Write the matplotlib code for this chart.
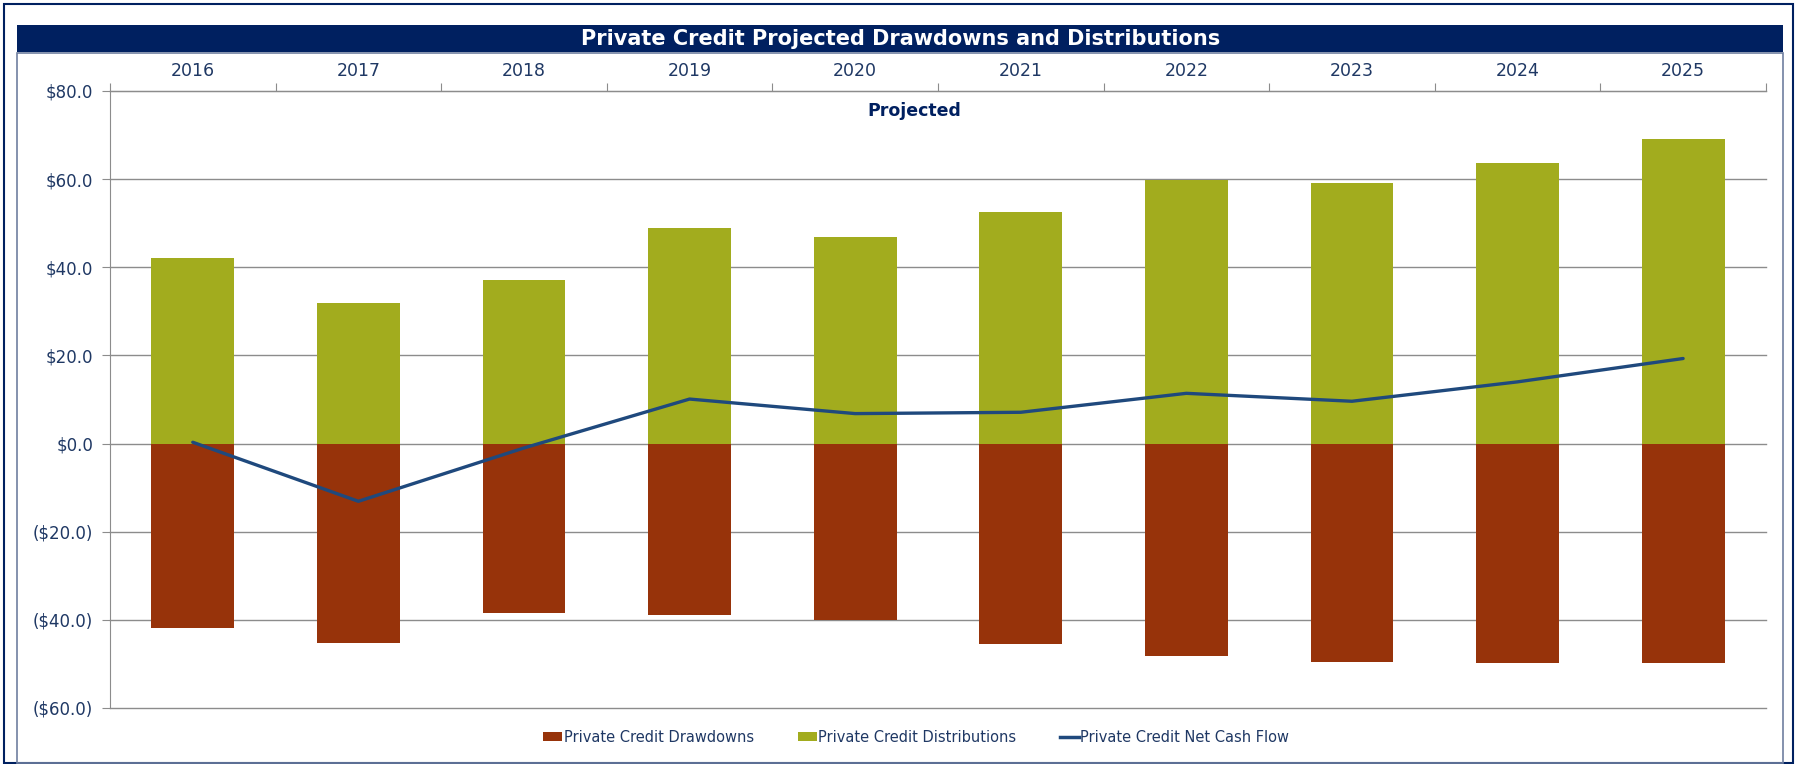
import matplotlib
matplotlib.use("Agg")
import numpy as np
import matplotlib.pyplot as plt
from matplotlib.patches import Rectangle, Patch
from matplotlib.lines import Line2D

# dados
anos = ["2016", "2017", "2018", "2019", "2020", "2021", "2022", "2023", "2024", "2025"]
distribuicoes = [42.0, 32.0, 37.1, 49.0, 46.8, 52.5, 59.8, 59.2, 63.6, 69.1]
saques = [-41.8, -45.2, -38.4, -39.0, -40.0, -45.5, -48.3, -49.6, -49.9, -49.9]
fluxo_liquido = [0.3, -13.1, -1.0, 10.1, 6.8, 7.1, 11.4, 9.6, 14.0, 19.3]
y_ticks = [80, 60, 40, 20, 0, -20, -40, -60]

cor_saque = "#97330A"
cor_dist = "#A2AC1E"
cor_linha = "#1F497D"
cor_titulo = "#002060"
cor_texto = "#1F3864"
cor_grade = "#8C8C8C"

plt.rcParams["font.family"] = ["DejaVu Sans"]


def formatar_dolar(v):
    if v < 0:
        return f"(${abs(v):.1f})"
    return f"${v:.1f}"


fig = plt.figure(figsize=(17.97, 7.64), dpi=100)

# moldura externa e caixa interna
fig.add_artist(Rectangle((0.0025, 0.001), 0.995, 0.994, transform=fig.transFigure,
                         fill=False, edgecolor=cor_titulo, lw=1.5))
fig.add_artist(Rectangle((0.0095, 0.001), 0.9828, 0.93, transform=fig.transFigure,
                         fill=False, edgecolor="#6F7FA0", lw=1.2))
# barra do titulo
fig.add_artist(Rectangle((0.0095, 0.9319), 0.9828, 0.0353, transform=fig.transFigure,
                         facecolor=cor_titulo, edgecolor=cor_titulo, lw=0))
fig.text(0.501, 0.9496, "Private Credit Projected Drawdowns and Distributions",
         color="white", fontsize=15, fontweight="bold", ha="center", va="center")

ax = fig.add_axes([0.0612, 0.0733, 0.9215, 0.8076])
x = np.arange(len(anos))

ax.bar(x, saques, width=0.5, color=cor_saque, zorder=2, label="Private Credit Drawdowns")
ax.bar(x, distribuicoes, width=0.5, color=cor_dist, zorder=2, label="Private Credit Distributions")
ax.plot(x, fluxo_liquido, color=cor_linha, lw=2.4, zorder=3, label="Private Credit Net Cash Flow",
        solid_capstyle="round")

ax.set_xlim(-0.5, len(anos) - 0.5)
ax.set_ylim(-60, 80)
ax.set_yticks(y_ticks)
ax.set_yticklabels([formatar_dolar(v) for v in y_ticks], color=cor_texto, fontsize=12)
ax.yaxis.grid(True, color=cor_grade, lw=1, zorder=0)
ax.set_axisbelow(True)
for g in ax.get_ygridlines():
    g.set_clip_on(False)

ax.xaxis.tick_top()
ax.set_xticks(np.arange(-0.5, len(anos)), labels=[""] * (len(anos) + 1))
ax.set_xticks(x, labels=anos, minor=True)
ax.tick_params(axis="x", which="major", length=6, color=cor_grade, direction="out")
ax.tick_params(axis="x", which="minor", length=0, pad=8, labelsize=12.5, labelcolor=cor_texto)
ax.tick_params(axis="y", length=6, color=cor_grade, pad=6)

for lado in ["right", "bottom"]:
    ax.spines[lado].set_visible(False)
ax.spines["left"].set_color(cor_grade)
ax.spines["top"].set_color(cor_grade)

ax.text(0.486, 0.967, "Projected", transform=ax.transAxes, ha="center", va="center",
        fontsize=12.5, fontweight="bold", color=cor_titulo)

itens = [Patch(facecolor=cor_saque, label="Private Credit Drawdowns"),
         Patch(facecolor=cor_dist, label="Private Credit Distributions"),
         Line2D([0], [0], color=cor_linha, lw=2.5, label="Private Credit Net Cash Flow")]
leg = fig.legend(handles=itens, loc="center", bbox_to_anchor=(0.51, 0.035), ncol=3,
                 frameon=False, fontsize=10.5, handlelength=1.3, handleheight=0.6,
                 handletextpad=0.1, columnspacing=3.0)
for t in leg.get_texts():
    t.set_color(cor_texto)

fig.savefig("out.png", dpi=100)
